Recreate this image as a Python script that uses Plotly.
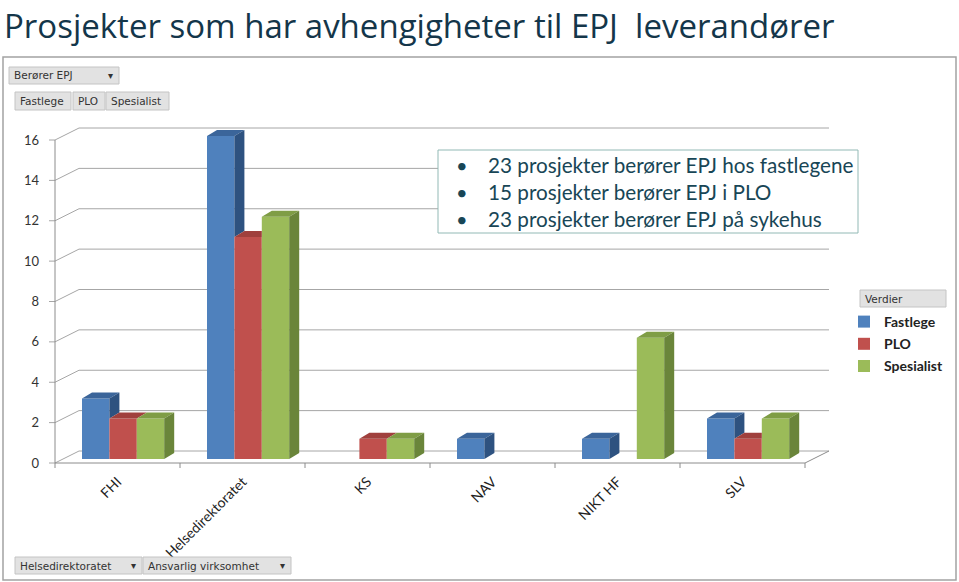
import plotly.graph_objects as go

# ---------------- data ----------------
categories = ["FHI", "Helsedirektoratet", "KS", "NAV", "NIKT HF", "SLV"]
series_names = ["Fastlege", "PLO", "Spesialist"]
fastlege = [3, 16, 0, 1, 1, 2]
plo = [2, 11, 1, 0, 0, 1]
spesialist = [2, 12, 1, 0, 6, 2]
y_ticks = [0, 2, 4, 6, 8, 10, 12, 14, 16]
title_text = "Prosjekter som har avhengigheter til EPJ  leverandører"
box_lines = [
    "23 prosjekter berører EPJ hos fastlegene",
    "15 prosjekter berører EPJ i PLO",
    "23 prosjekter berører EPJ på sykehus",
]

# ---------------- styling / geometry ----------------
W, H = 959, 582
L, R, T, B = 46, 832, 125, 470          # plot area in pixels
AX_X0, AX_Y0 = 55, 463                   # front-axis origin in pixels
PX_CAT = 125.0
PX_UNIT = (463 - 140) / 16.0


def xd(px):
    return (px - AX_X0) / PX_CAT - 0.5


def yd(py):
    return (AX_Y0 - py) / PX_UNIT


def xp(px):
    return (px - L) / (R - L)


def yp(py):
    return (B - py) / (B - T)


dxw, dyw = 24 / PX_CAT, 12 / PX_UNIT     # back-wall depth
dxb, dyb = 10 / PX_CAT, 6 / PX_UNIT      # bar depth
bar_base = 4 / PX_UNIT                   # bars stand a bit behind the front axis
bar_w = 27.4 / PX_CAT
bar_off0 = -0.284

front_cols = ["#4F81BD", "#C0504D", "#9BBB59"]
top_cols = ["#3B659A", "#A0403D", "#7F9D45"]
side_cols = ["#2E5280", "#8A3532", "#6A853A"]

values = [fastlege, plo, spesialist]
n_cat = len(categories)
x_left_front = -0.5
x_right_front = n_cat - 0.5

fig = go.Figure()

# front faces as bars
for s, name in enumerate(series_names):
    fig.add_trace(go.Bar(
        x=list(range(n_cat)), y=values[s], base=bar_base, name=name,
        offset=bar_off0 + s * bar_w, width=bar_w,
        marker=dict(color=front_cols[s], line=dict(width=0)),
        legendgroup=name, hoverinfo="skip",
    ))

# 3D top and side faces derived from the values
for s in range(3):
    tx, ty, sx, sy = [], [], [], []
    for i in range(n_cat):
        v = values[s][i]
        if v <= 0:
            continue
        vn = values[s + 1][i] if s < 2 else 0
        x0 = i + bar_off0 + s * bar_w
        x1 = x0 + bar_w
        top = v + bar_base
        if vn > v:
            tx += [x0, x1, x1, x0 + dxb, x0, None]
            ty += [top, top, top + dyb, top + dyb, top, None]
        else:
            tx += [x0, x1, x1 + dxb, x0 + dxb, x0, None]
            ty += [top, top, top + dyb, top + dyb, top, None]
        b = max(vn, 0) + bar_base
        if top > b:
            sx += [x1, x1, x1 + dxb, x1 + dxb, x1, None]
            sy += [b, top, top + dyb, b + dyb, b, None]
    fig.add_trace(go.Scatter(x=tx, y=ty, mode="lines", fill="toself",
                             fillcolor=top_cols[s], line=dict(width=0, color=top_cols[s]),
                             showlegend=False, hoverinfo="skip"))
    fig.add_trace(go.Scatter(x=sx, y=sy, mode="lines", fill="toself",
                             fillcolor=side_cols[s], line=dict(width=0, color=side_cols[s]),
                             showlegend=False, hoverinfo="skip"))

shapes = []
# gridlines (3D walls)
grid_col = "#A6A6A6"
for v in y_ticks:
    path = (f"M{xd(49)},{v} L{x_left_front},{v} L{x_left_front + dxw},{v + dyw} "
            f"L{x_right_front + dxw},{v + dyw}")
    shapes.append(dict(type="path", xref="x", yref="y", path=path,
                       line=dict(color=grid_col, width=1), layer="below"))
# front axis and floor edge
shapes.append(dict(type="path", xref="x", yref="y",
                   path=f"M{x_left_front},{y_ticks[-1]} L{x_left_front},0",
                   line=dict(color="#8C8C8C", width=1), layer="below"))
shapes.append(dict(type="path", xref="x", yref="y",
                   path=f"M{x_left_front},0 L{x_right_front},0 L{x_right_front + dxw},{dyw}",
                   line=dict(color="#8C8C8C", width=1), layer="below"))
# category boundary ticks
for k in range(n_cat + 1):
    bx = k - 0.5
    shapes.append(dict(type="line", xref="x", yref="y", x0=bx, x1=bx, y0=0, y1=yd(468),
                       line=dict(color="#8C8C8C", width=1), layer="below"))

# outer frame
shapes.append(dict(type="rect", xref="paper", yref="paper",
                   x0=xp(3), x1=xp(956), y0=yp(57), y1=yp(580),
                   line=dict(color="#A3A3A3", width=1.5), layer="below"))

# text box
shapes.append(dict(type="rect", xref="paper", yref="paper",
                   x0=xp(438), x1=xp(858), y0=yp(150), y1=yp(233),
                   line=dict(color="#92B9B5", width=1), fillcolor="white", layer="above"))

annotations = []
# pivot-style buttons
buttons = [
    (9, 67, 119, 84, "Berører EPJ", "▾"),
    (15, 92, 71, 110, "Fastlege", ""),
    (73, 92, 105, 110, "PLO", ""),
    (106, 92, 169, 110, "Spesialist", ""),
    (15, 557, 142, 574, "Helsedirektoratet", "▾"),
    (143, 557, 291, 574, "Ansvarlig virksomhet", "▾"),
    (860, 290, 946, 307, "Verdier", ""),
]
for (bx0, by0, bx1, by1, txt, arrow) in buttons:
    shapes.append(dict(type="rect", xref="paper", yref="paper",
                       x0=xp(bx0), x1=xp(bx1), y0=yp(by0), y1=yp(by1),
                       line=dict(color="#C4C4C4", width=1), fillcolor="#E2E2E2",
                       layer="above"))
    annotations.append(dict(xref="paper", yref="paper", x=xp(bx0 + 3), y=yp((by0 + by1) / 2),
                            text=txt, showarrow=False, xanchor="left", yanchor="middle",
                            font=dict(family="DejaVu Sans", size=10.5, color="#333333")))
    if arrow:
        annotations.append(dict(xref="paper", yref="paper", x=xp(bx1 - 9), y=yp((by0 + by1) / 2),
                                text=arrow, showarrow=False, xanchor="center", yanchor="middle",
                                font=dict(family="DejaVu Sans", size=10, color="#333333")))

# title
annotations.append(dict(xref="paper", yref="paper", x=xp(2), y=yp(0.5), text=title_text,
                        showarrow=False, xanchor="left", yanchor="top",
                        font=dict(family="Open Sans", size=33, color="#14364A")))

# text box lines
line_y = [165, 192, 219]
for ly, txt in zip(line_y, box_lines):
    annotations.append(dict(xref="paper", yref="paper", x=xp(454), y=yp(ly), text="•",
                            showarrow=False, xanchor="left", yanchor="middle",
                            font=dict(family="Lato", size=20, color="#184656")))
    annotations.append(dict(xref="paper", yref="paper", x=xp(486), y=yp(ly), text=txt,
                            showarrow=False, xanchor="left", yanchor="middle",
                            font=dict(family="Lato", size=20.7, color="#184656")))

fig.update_layout(
    width=W, height=H,
    margin=dict(l=L, r=W - R, t=T, b=H - B, pad=0, autoexpand=False),
    paper_bgcolor="white", plot_bgcolor="white",
    barmode="overlay",
    showlegend=True,
    legend=dict(x=xp(844), y=yp(306), xanchor="left", yanchor="top",
                font=dict(family="Lato", size=14, color="#222222", weight="bold"),
                bgcolor="rgba(0,0,0,0)", tracegroupgap=1, itemwidth=30),
    xaxis=dict(range=[xd(L), xd(R)], tickmode="array", tickvals=list(range(n_cat)),
               ticktext=categories, tickangle=-45, showgrid=False, zeroline=False,
               showline=False, ticks="", tickfont=dict(family="Lato", size=14, color="#222222"),
               fixedrange=True),
    yaxis=dict(range=[yd(B), yd(T)], tickmode="array", tickvals=y_ticks,
               showgrid=False, zeroline=False, showline=False, ticks="",
               ticklabelstandoff=6,
               tickfont=dict(family="Lato", size=13, color="#333333"), fixedrange=True),
    shapes=shapes,
    annotations=annotations,
)

fig.write_html("out.html", config={"displayModeBar": False},
               post_script="document.body.style.margin='0';")
